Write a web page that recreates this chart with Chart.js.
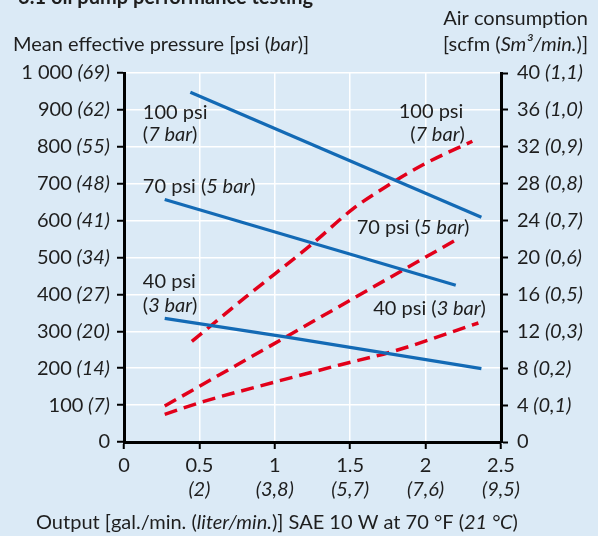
<!DOCTYPE html>
<html lang="en">
<head>
  <meta charset="UTF-8">
  <title>Oil pump performance testing</title>
  <script src="https://cdn.jsdelivr.net/npm/chart.js"></script>
  <style>
    body {
      margin: 0;
      background: #dbeaf6;
    }
    canvas {
      display: block;
    }
  </style>
</head>
<body>
  <canvas id="pumpChart" width="598" height="536"></canvas>

  <script>
    // Output (gal./min.) axis ticks and metric sub labels
    const xTicks = [0, 0.5, 1, 1.5, 2, 2.5];
    const xTickMetric = ['', '(2)', '(3,8)', '(5,7)', '(7,6)', '(9,5)'];

    // Left axis: mean effective pressure psi (bar)
    const psiTicks = [0, 100, 200, 300, 400, 500, 600, 700, 800, 900, 1000];
    const psiLabels = ['0', '100', '200', '300', '400', '500', '600', '700', '800', '900', '1 000'];
    const barLabels = ['', '(7)', '(14)', '(20)', '(27)', '(34)', '(41)', '(48)', '(55)', '(62)', '(69)'];

    // Right axis: air consumption scfm (Sm3/min.)
    const scfmTicks = [0, 4, 8, 12, 16, 20, 24, 28, 32, 36, 40];
    const sm3Labels = ['', '(0,1)', '(0,2)', '(0,3)', '(0,5)', '(0,6)', '(0,7)', '(0,8)', '(0,9)', '(1,0)', '(1,1)'];

    // Mean effective pressure curves (psi), solid blue
    const mep100 = [{x: 0.44, y: 948}, {x: 2.37, y: 609}];
    const mep70 = [{x: 0.27, y: 657}, {x: 2.20, y: 425}];
    const mep40 = [{x: 0.27, y: 335}, {x: 1.08, y: 284}, {x: 2.37, y: 199}];

    // Air consumption curves (scfm), dashed red
    const air100 = [{x: 0.45, y: 10.9}, {x: 0.81, y: 15.75}, {x: 1.25, y: 21.5}, {x: 1.52, y: 25.3}, {x: 1.70, y: 27.3}, {x: 2.0, y: 30.2}, {x: 2.31, y: 32.6}];
    const air70 = [{x: 0.27, y: 3.9}, {x: 0.92, y: 9.95}, {x: 1.61, y: 16.4}, {x: 2.20, y: 21.9}];
    const air40 = [{x: 0.27, y: 3.0}, {x: 0.53, y: 4.4}, {x: 1.0, y: 6.5}, {x: 1.43, y: 8.35}, {x: 1.78, y: 9.8}, {x: 2.35, y: 12.9}];

    const pressureNames = ['100 psi', '70 psi', '40 psi'];
    const pressureBars = ['7 bar', '5 bar', '3 bar'];

    const FONT = 'Lato';
    const SIZE = 20;
    const INK = '#1e1e1e';
    const BLUE = '#136ab5';
    const RED = '#e2001a';

    // draw text made of [text, italic] runs
    function richText(ctx, runs, x, y, align) {
      let total = 0;
      const widths = runs.map(r => {
        ctx.font = (r[1] ? 'italic ' : '') + SIZE + 'px ' + FONT;
        const w = ctx.measureText(r[0]).width;
        total += w;
        return w;
      });
      let cx = align === 'right' ? x - total : align === 'center' ? x - total / 2 : x;
      ctx.textAlign = 'left';
      ctx.textBaseline = 'middle';
      ctx.fillStyle = INK;
      runs.forEach((r, i) => {
        ctx.font = (r[1] ? 'italic ' : '') + SIZE + 'px ' + FONT;
        ctx.fillText(r[0], cx, y);
        cx += widths[i];
      });
    }

    const labelsPlugin = {
      id: 'labels',
      afterDraw(chart) {
        const ctx = chart.ctx;
        const xs = chart.scales.x, ys = chart.scales.y, y2 = chart.scales.y2;
        ctx.save();

        // cut-off heading
        ctx.font = 'bold ' + SIZE + 'px ' + FONT;
        ctx.fillStyle = INK;
        ctx.textAlign = 'right';
        ctx.textBaseline = 'alphabetic';
        ctx.fillText('6.1 oil pump performance testing', 313, 4);

        // left tick labels
        psiTicks.forEach((v, i) => {
          const runs = [[psiLabels[i], false]];
          if (barLabels[i]) runs.push([' ' + barLabels[i], true]);
          richText(ctx, runs, ys.left + ys.width - 14, ys.getPixelForValue(v), 'right');
        });
        // right tick labels
        scfmTicks.forEach((v, i) => {
          const runs = [[String(v), false]];
          if (sm3Labels[i]) runs.push([' ' + sm3Labels[i], true]);
          richText(ctx, runs, y2.left + 16, y2.getPixelForValue(v), 'left');
        });
        // bottom tick labels
        xTicks.forEach((v, i) => {
          const px = xs.getPixelForValue(v);
          richText(ctx, [[String(v), false]], px, xs.top + 24, 'center');
          if (xTickMetric[i]) richText(ctx, [[xTickMetric[i], true]], px, xs.top + 48, 'center');
        });

        // axis titles
        richText(ctx, [['Mean effective pressure [psi (', false], ['bar', true], [')]', false]], 13, 45, 'left');
        richText(ctx, [['Air consumption', false]], 588, 19, 'right');
        richText(ctx, [['[scfm (', false], ['Sm\u00b3/min.', true], [')]', false]], 588, 45, 'right');
        richText(ctx, [['Output [gal./min. (', false], ['liter/min.', true], [')] SAE 10 W at 70 \u00b0F (', false], ['21 \u00b0C', true], [')', false]], 36, 523, 'left');

        // curve labels, left group (pressure)
        const lx = xs.getPixelForValue(0.125);
        richText(ctx, [[pressureNames[0], false]], lx, ys.getPixelForValue(894), 'left');
        richText(ctx, [['(', false], [pressureBars[0], true], [')', false]], lx, ys.getPixelForValue(832), 'left');
        richText(ctx, [[pressureNames[1] + ' (', false], [pressureBars[1], true], [')', false]], lx, ys.getPixelForValue(692), 'left');
        richText(ctx, [[pressureNames[2], false]], lx, ys.getPixelForValue(434), 'left');
        richText(ctx, [['(', false], [pressureBars[2], true], [')', false]], lx, ys.getPixelForValue(371), 'left');

        // curve labels, right group (air)
        richText(ctx, [[pressureNames[0], false]], xs.getPixelForValue(2.25), y2.getPixelForValue(35.8), 'right');
        richText(ctx, [['(', false], [pressureBars[0], true], [')', false]], xs.getPixelForValue(2.26), y2.getPixelForValue(33.3), 'right');
        richText(ctx, [[pressureNames[1] + ' (', false], [pressureBars[1], true], [')', false]], xs.getPixelForValue(2.29), y2.getPixelForValue(23.2), 'right');
        richText(ctx, [[pressureNames[2] + ' (', false], [pressureBars[2], true], [')', false]], xs.getPixelForValue(2.40), y2.getPixelForValue(14.5), 'right');

        ctx.restore();
      }
    };

    const blueLine = (data) => ({
      data: data, xAxisID: 'x', yAxisID: 'y',
      borderColor: BLUE, borderWidth: 3.2, pointRadius: 0, tension: 0
    });
    const redLine = (data) => ({
      data: data, xAxisID: 'x', yAxisID: 'y2',
      borderColor: RED, borderWidth: 3.5, borderDash: [13, 7], pointRadius: 0,
      cubicInterpolationMode: 'monotone'
    });

    const ctx = document.getElementById('pumpChart').getContext('2d');
    new Chart(ctx, {
      type: 'line',
      data: {
        datasets: [
          blueLine(mep100), blueLine(mep70), blueLine(mep40),
          redLine(air100), redLine(air70), redLine(air40)
        ]
      },
      options: {
        responsive: false,
        animation: false,
        layout: { padding: { top: 73, left: 0, right: 0, bottom: 0 } },
        plugins: { legend: { display: false }, tooltip: { enabled: false } },
        scales: {
          x: {
            type: 'linear', min: 0, max: 2.5,
            afterBuildTicks: s => { s.ticks = xTicks.map(v => ({ value: v })); },
            afterFit: s => { s.height = 94; },
            ticks: { color: 'rgba(0,0,0,0)' },
            grid: { color: '#ffffff', lineWidth: 1.5, tickColor: '#000', tickLength: 7, tickWidth: 2 },
            border: { color: '#000', width: 3 }
          },
          y: {
            type: 'linear', position: 'left', min: 0, max: 1000,
            afterBuildTicks: s => { s.ticks = psiTicks.map(v => ({ value: v })); },
            afterFit: s => { s.width = 124; },
            ticks: { color: 'rgba(0,0,0,0)' },
            grid: { color: '#ffffff', lineWidth: 1.5, tickColor: '#000', tickLength: 7, tickWidth: 2 },
            border: { color: '#000', width: 3 }
          },
          y2: {
            type: 'linear', position: 'right', min: 0, max: 40,
            afterBuildTicks: s => { s.ticks = scfmTicks.map(v => ({ value: v })); },
            afterFit: s => { s.width = 97; },
            ticks: { color: 'rgba(0,0,0,0)' },
            grid: { drawOnChartArea: false, tickColor: '#000', tickLength: 7, tickWidth: 2 },
            border: { color: '#000', width: 3 }
          }
        }
      },
      plugins: [labelsPlugin]
    });
  </script>
</body>
</html>
